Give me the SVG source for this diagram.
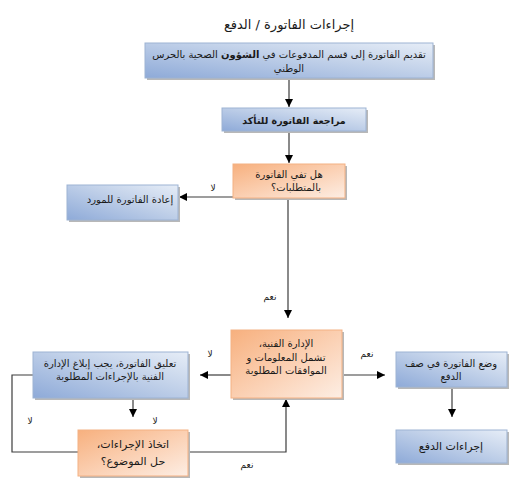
<svg xmlns="http://www.w3.org/2000/svg" width="527" height="494" viewBox="0 0 527 494">
<defs>
<linearGradient id="gb" x1="0" y1="1" x2="1" y2="0">
<stop offset="0" stop-color="#8eaad8"/>
<stop offset="0.6" stop-color="#c4d3ea"/>
<stop offset="1" stop-color="#e6edf7"/>
</linearGradient>
<linearGradient id="go" x1="0" y1="0" x2="1" y2="1">
<stop offset="0" stop-color="#f7b07e"/>
<stop offset="0.55" stop-color="#fbd2b6"/>
<stop offset="1" stop-color="#fdeee4"/>
</linearGradient>
<marker id="ah" markerWidth="8" markerHeight="8" refX="8" refY="4" orient="auto" markerUnits="userSpaceOnUse">
<path d="M0,0 L8,4 L0,8 Z" fill="#000"/>
</marker>
<style>
.b{fill:url(#gb);stroke:#9db3d3;stroke-width:1}
.o{fill:url(#go);stroke:#f4b183;stroke-width:1}
.s{fill:#b8b8b8}
text{font-family:"DejaVu Sans",sans-serif;font-size:10px;fill:#1a1a1a;text-anchor:middle;direction:rtl}
.t{font-size:13px}
.l{font-size:9px}
.c{fill:none;stroke:#3c3c3c;stroke-width:1.2}
</style>
</defs>
<text class="t" x="289" y="29">إجراءات الفاتورة / الدفع</text>
<g id="connectors">
<line class="c" x1="289" y1="79" x2="289" y2="107" marker-end="url(#ah)"/>
<line class="c" x1="289" y1="132" x2="289" y2="163" marker-end="url(#ah)"/>
<line class="c" x1="233" y1="197" x2="179" y2="197" marker-end="url(#ah)"/>
<line class="c" x1="288" y1="199" x2="288" y2="318" marker-end="url(#ah)"/>
<line class="c" x1="231" y1="375" x2="200" y2="375" marker-end="url(#ah)"/>
<line class="c" x1="342" y1="375" x2="385" y2="375" marker-end="url(#ah)"/>
<line class="c" x1="133" y1="398" x2="133" y2="417" marker-end="url(#ah)"/>
<polyline class="c" points="33,375 12,375 12,452 78,452"/>
<polyline class="c" points="188,452 286,452 286,399" marker-end="url(#ah)"/>
<line class="c" x1="452" y1="388" x2="452" y2="417" marker-end="url(#ah)"/>
<text class="l" x="213" y="191">لا</text>
<text class="l" x="270" y="300">نعم</text>
<text class="l" x="210" y="357">لا</text>
<text class="l" x="367" y="357">نعم</text>
<text class="l" x="30" y="424">لا</text>
<text class="l" x="155" y="424">لا</text>
<text class="l" x="247" y="468">نعم</text>
</g>
<g id="n1">
<rect class="s" x="147" y="45" width="288" height="35"/>
<rect class="b" x="145" y="43" width="288" height="35"/>
<text x="289" y="58">تقديم الفاتورة إلى قسم المدفوعات في <tspan font-weight="bold">الشؤون</tspan> الصحية بالحرس</text>
<text x="289" y="72">الوطني</text>
</g>
<g id="n2">
<rect class="s" x="224" y="110" width="144" height="23"/>
<rect class="b" x="222" y="108" width="144" height="23"/>
<text x="294" y="124" font-weight="bold" style="font-size:9.5px">مراجعة الفاتورة للتأكد</text>
</g>
<g id="n3">
<rect class="s" x="235" y="166" width="112" height="34"/>
<rect class="o" x="233" y="164" width="112" height="34"/>
<text x="289" y="178">هل تفي الفاتورة</text>
<text x="296" y="191">بالمتطلبات؟</text>
</g>
<g id="n4">
<rect class="s" x="69" y="187" width="111" height="35"/>
<rect class="b" x="67" y="185" width="111" height="35"/>
<text x="130" y="203">إعادة الفاتورة للمورد</text>
</g>
<g id="n5">
<rect class="s" x="233" y="332" width="111" height="68"/>
<rect class="o" x="231" y="330" width="111" height="68"/>
<text x="286" y="347">الإدارة الفنية،</text>
<text x="286" y="361">تشمل المعلومات و</text>
<text x="286" y="374">الموافقات المطلوبة</text>
</g>
<g id="n6">
<rect class="s" x="35" y="354" width="155" height="46"/>
<rect class="b" x="33" y="352" width="155" height="46"/>
<text x="110" y="367">تعليق الفاتورة، يجب إبلاغ  الإدارة</text>
<text x="110" y="380">الفنية بالإجراءات المطلوبة</text>
</g>
<g id="n7">
<rect class="s" x="398" y="354" width="111" height="35"/>
<rect class="b" x="396" y="352" width="111" height="35"/>
<text x="451" y="367">وضع الفاتورة في صف</text>
<text x="451" y="380">الدفع</text>
</g>
<g id="n8">
<rect class="s" x="80" y="432" width="110" height="46"/>
<rect class="o" x="78" y="430" width="110" height="46"/>
<text x="133" y="448" style="font-size:11px">اتخاذ الإجراءات،</text>
<text x="133" y="465" style="font-size:11px">حل الموضوع؟</text>
</g>
<g id="n9">
<rect class="s" x="398" y="432" width="111" height="33"/>
<rect class="b" x="396" y="430" width="111" height="33"/>
<text x="451" y="450" style="font-size:11px">إجراءات الدفع</text>
</g>
</svg>
